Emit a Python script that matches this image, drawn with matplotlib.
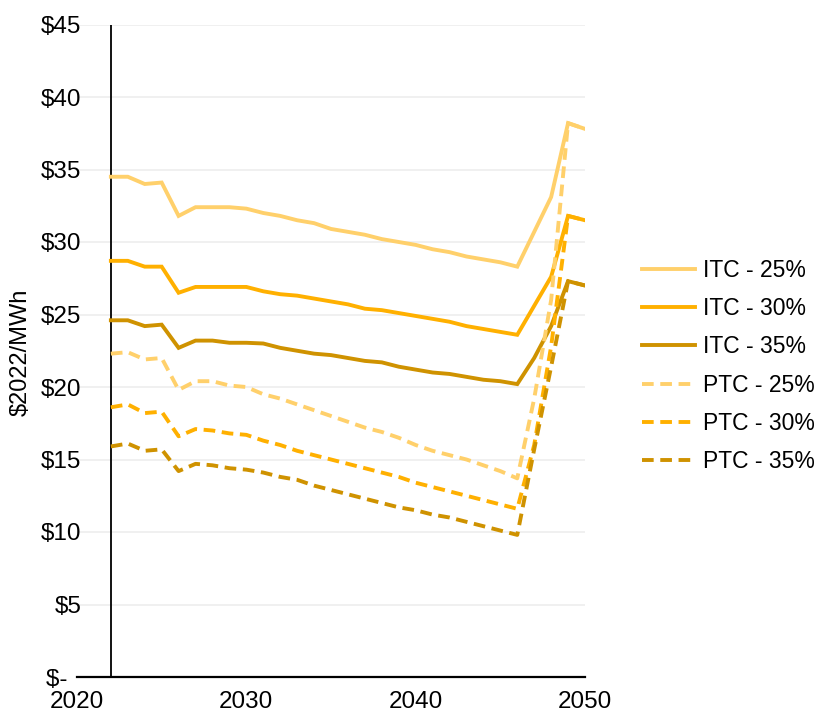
import matplotlib
matplotlib.use("Agg")
import matplotlib.pyplot as plt

plt.rcParams['font.family'] = ['Liberation Sans', 'DejaVu Sans']

years = list(range(2022, 2051))

itc_25 = [34.5, 34.5, 34.0, 34.1, 31.8, 32.4, 32.4, 32.4, 32.3, 32.0, 31.8, 31.5, 31.3, 30.9, 30.7,
          30.5, 30.2, 30.0, 29.8, 29.5, 29.3, 29.0, 28.8, 28.6, 28.3, 30.7, 33.1, 38.2, 37.8]
itc_30 = [28.7, 28.7, 28.3, 28.3, 26.5, 26.9, 26.9, 26.9, 26.9, 26.6, 26.4, 26.3, 26.1, 25.9, 25.7,
          25.4, 25.3, 25.1, 24.9, 24.7, 24.5, 24.2, 24.0, 23.8, 23.6, 25.6, 27.6, 31.8, 31.5]
itc_35 = [24.6, 24.6, 24.2, 24.3, 22.7, 23.2, 23.2, 23.05, 23.05, 23.0, 22.7, 22.5, 22.3, 22.2, 22.0,
          21.8, 21.7, 21.4, 21.2, 21.0, 20.9, 20.7, 20.5, 20.4, 20.2, 22.0, 24.2, 27.3, 27.0]
ptc_25 = [22.3, 22.4, 21.9, 22.0, 19.8, 20.4, 20.4, 20.1, 20.0, 19.5, 19.2, 18.8, 18.4, 18.0, 17.6,
          17.2, 16.9, 16.5, 16.0, 15.6, 15.3, 15.0, 14.6, 14.2, 13.7, 19.2, 26.0, 38.2, 37.8]
ptc_30 = [18.6, 18.8, 18.2, 18.3, 16.6, 17.1, 17.0, 16.8, 16.7, 16.3, 16.0, 15.6, 15.3, 15.0, 14.7,
          14.4, 14.1, 13.8, 13.4, 13.1, 12.8, 12.5, 12.2, 11.9, 11.6, 16.0, 22.8, 31.8, 31.5]
ptc_35 = [15.9, 16.1, 15.6, 15.7, 14.2, 14.7, 14.6, 14.4, 14.3, 14.1, 13.8, 13.6, 13.2, 12.9, 12.6,
          12.3, 12.0, 11.7, 11.5, 11.2, 11.0, 10.7, 10.4, 10.1, 9.8, 15.7, 21.4, 27.3, 27.0]

labels = ['ITC - 25%', 'ITC - 30%', 'ITC - 35%', 'PTC - 25%', 'PTC - 30%', 'PTC - 35%']
series = [itc_25, itc_30, itc_35, ptc_25, ptc_30, ptc_35]
colors = ['#FFD06B', '#FFB000', '#CF9200'] * 2
styles = ['-', '-', '-', '--', '--', '--']

y_ticks = list(range(0, 50, 5))
y_ticklabels = ['$-  '] + ['$%d' % v for v in y_ticks[1:]]
x_ticks = [2020, 2030, 2040, 2050]

fig = plt.figure(figsize=(8.21, 7.17), dpi=100)
ax = fig.add_axes([77 / 821, 1 - 677 / 717, 508 / 821, 652.5 / 717])

for vals, lab, col, ls in zip(series, labels, colors, styles):
    line, = ax.plot(years, vals, color=col, linestyle=ls, linewidth=2.8, label=lab,
                    solid_joinstyle='miter')
    if ls == '--':
        line.set_dashes((3.0, 1.7))

ax.set_xlim(2020, 2050)
ax.set_ylim(0, 45)
ax.set_yticks(y_ticks)
ax.set_yticklabels(y_ticklabels)
ax.set_xticks(x_ticks)
ax.tick_params(axis='both', length=0, labelsize=17.5)
ax.tick_params(axis='y', pad=-3)
ax.tick_params(axis='x', pad=10)

ax.grid(axis='y', color='#EEEEEE', linewidth=1.2)
ax.set_axisbelow(True)
for s in ['top', 'right', 'left']:
    ax.spines[s].set_visible(False)
ax.spines['bottom'].set_linewidth(1.6)
ax.axvline(2022, color='black', linewidth=1.3, zorder=1.5)

fig.text(21 / 821, 1 - 352 / 717, '$2022/MWh', rotation=90, ha='center', va='center',
         fontsize=17)

ax.legend(loc='center left', bbox_to_anchor=(642 / 821, 1 - 366 / 717),
          bbox_transform=fig.transFigure, frameon=False, fontsize=16.5,
          handlelength=2.3, handletextpad=0.35, labelspacing=0.66, borderpad=0,
          borderaxespad=0)

fig.savefig('out.png', dpi=100)
